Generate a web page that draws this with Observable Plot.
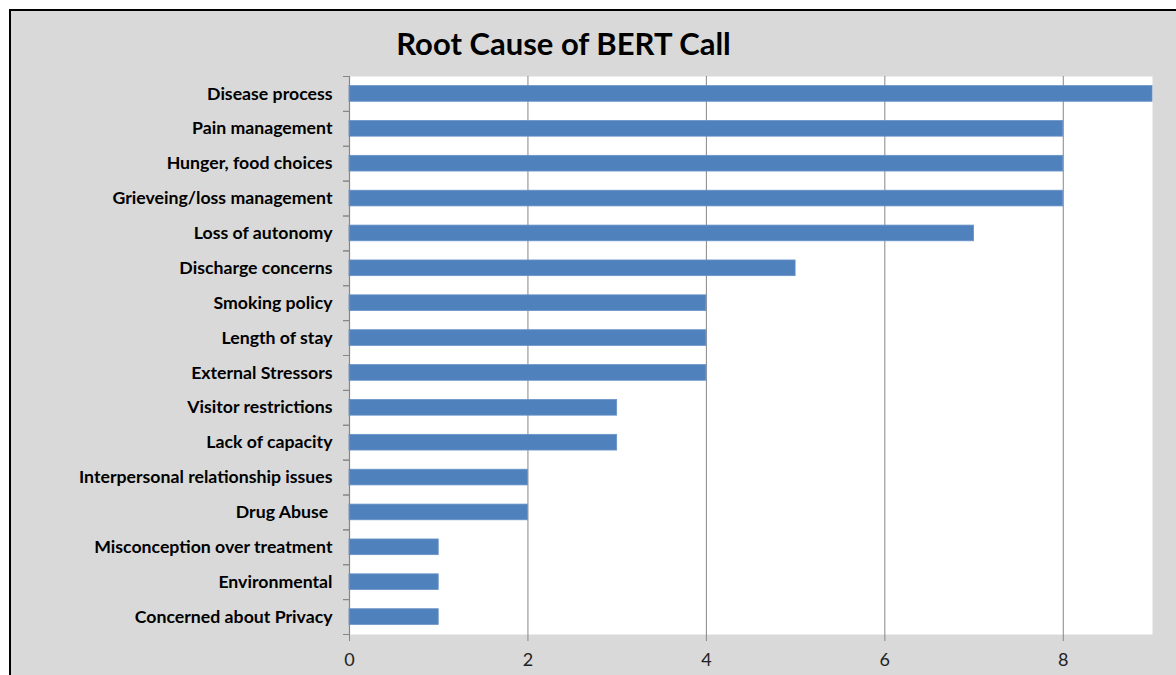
<!DOCTYPE html>
<html>
<head>
<meta charset="utf-8">
<script src="https://cdn.jsdelivr.net/npm/d3@7"></script>
<script src="https://cdn.jsdelivr.net/npm/@observablehq/plot@0.6"></script>
<style>
  html, body { margin: 0; padding: 0; background: #ffffff; width: 1176px; height: 675px; overflow: hidden; }
  #frame { position: absolute; left: 9px; top: 9px; width: 1200px; height: 700px;
           border-left: 2px solid #000; border-top: 2px solid #000; background: #d9d9d9; }
  #title { position: absolute; left: 0; top: 17px; width: 1105px; text-align: center; line-height: 1;
           font-family: Lato, sans-serif; font-weight: bold; font-size: 31px; color: #000; }
  #chart { position: absolute; left: 0; top: 0; }
</style>
</head>
<body>
<div id="frame">
  <div id="chart"></div>
  <div id="title">Root Cause of BERT Call</div>
</div>
<script>
const causes = [
  "Disease process",
  "Pain management",
  "Hunger, food choices",
  "Grieveing/loss management",
  "Loss of autonomy",
  "Discharge concerns",
  "Smoking policy",
  "Length of stay",
  "External Stressors",
  "Visitor restrictions",
  "Lack of capacity",
  "Interpersonal relationship issues",
  "Drug Abuse\u00a0",
  "Misconception over treatment",
  "Environmental",
  "Concerned about Privacy"
];
const counts = [9, 8, 8, 8, 7, 5, 4, 4, 4, 3, 3, 2, 2, 1, 1, 1];
const xTicks = [0, 2, 4, 6, 8];
const gridTicks = [2, 4, 6, 8];

const data = causes.map((c, i) => ({cause: c, value: counts[i]}));

const W = 1165, H = 664;
const mL = 338, mR = 24, mT = 65, mB = 41;
const step = (H - mT - mB) / causes.length;
const axisColor = "#868686";

const chart = Plot.plot({
  width: W,
  height: H,
  marginLeft: mL,
  marginRight: mR,
  marginTop: mT,
  marginBottom: mB,
  style: {background: "transparent", fontFamily: "Lato, sans-serif"},
  x: {domain: [0, 9]},
  y: {domain: causes, paddingInner: 0.55, paddingOuter: 0.275, round: false},
  marks: [
    Plot.frame({fill: "#ffffff", stroke: null}),
    Plot.ruleX(gridTicks, {stroke: axisColor, strokeWidth: 1}),
    Plot.barX(data, {x: "value", y: "cause", fill: "#4f81bd", stroke: "#6a93c8", strokeWidth: 0.8}),
    Plot.ruleX([0], {stroke: axisColor, strokeWidth: 1.2}),
    Plot.ruleY([0], {frameAnchor: "bottom", stroke: axisColor, strokeWidth: 1.2}),
    Plot.axisX({ticks: xTicks, tickSize: 7, tickPadding: 12, stroke: axisColor, fill: "#222", fontSize: 18, label: null, tickFormat: d => String(d)}),
    Plot.axisY({tickSize: 0, tickPadding: 17, fill: "#000", fontSize: 17.7, fontWeight: "bold", label: null}),
    Plot.axisY({tickSize: 6, text: null, dy: -step / 2, stroke: axisColor, label: null}),
    Plot.axisY({tickSize: 6, text: null, dy: step / 2, stroke: axisColor, label: null})
  ]
});
document.getElementById("chart").appendChild(chart);
</script>
</body>
</html>
